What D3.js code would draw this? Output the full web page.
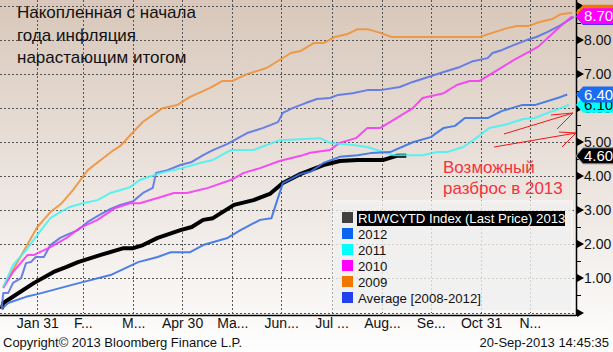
<!doctype html>
<html lang="ru">
<head>
<meta charset="utf-8">
<title>Накопленная инфляция</title>
<script src="https://cdn.jsdelivr.net/npm/d3@7"></script>
<style>
  body { margin: 0; background: #fff; }
  svg { display: block; font-family: "Liberation Sans", Arial, sans-serif; }
</style>
</head>
<body>
<svg></svg>
<script>
// series: [day of year, cumulative CPI %]
var s2013 = [[8,0.10],[9,0.28],[28,0.87],[40,1.19],[48,1.34],[55,1.48],[69,1.69],[83,1.89],[89,1.89],[95,1.98],[104,2.19],[118,2.42],[125,2.51],[132,2.72],[138,2.77],[151,3.16],[163,3.30],[173,3.48],[181,3.80],[192,4.07],[198,4.18],[206,4.33],[216,4.45],[227,4.48],[243,4.48],[247,4.54],[251,4.60],[257,4.60]];
var s2012 = [[8,0.10],[12,0.28],[23,0.46],[30,0.54],[56,0.87],[75,1.10],[92,1.48],[104,1.63],[112,1.77],[124,1.77],[132,1.98],[147,2.19],[155,2.42],[167,2.72],[174,2.77],[181,3.80],[192,4.07],[198,4.13],[206,4.39],[216,4.57],[227,4.62],[235,4.68],[247,4.71],[261,5.00],[272,5.15],[280,5.42],[287,5.48],[293,5.71],[307,5.71],[316,5.92],[328,6.09],[336,6.09],[352,6.33],[356,6.40]];
var s2011 = [[9,0.75],[15,1.39],[23,1.83],[30,2.28],[38,2.77],[44,2.95],[50,3.10],[58,3.21],[67,3.30],[75,3.51],[87,3.68],[93,3.89],[106,4.10],[119,4.24],[130,4.39],[138,4.48],[149,4.77],[163,4.77],[179,5.06],[204,5.12],[210,4.98],[224,4.92],[233,4.86],[243,4.71],[249,4.62],[267,4.62],[276,4.71],[282,4.71],[292,4.86],[300,5.12],[308,5.42],[319,5.53],[329,5.68],[336,5.71],[344,5.86],[352,6.00],[357,6.10]];
var s2010 = [[9,0.72],[15,1.19],[24,1.69],[28,1.69],[38,1.92],[48,2.19],[56,2.48],[67,2.72],[78,3.07],[87,3.21],[93,3.21],[104,3.36],[114,3.51],[122,3.51],[135,3.66],[149,3.89],[157,4.10],[167,4.24],[179,4.45],[192,4.60],[198,4.69],[210,4.77],[216,4.98],[226,5.12],[233,5.42],[241,5.42],[249,5.65],[261,6.00],[267,6.30],[280,6.44],[288,6.68],[296,6.80],[302,6.80],[313,7.12],[323,7.41],[338,7.80],[352,8.41],[359,8.70]];
var s2009 = [[9,0.75],[23,1.92],[30,2.51],[38,2.95],[45,3.21],[52,3.60],[61,4.18],[69,4.48],[77,4.77],[81,4.89],[89,5.30],[95,5.60],[107,6.00],[116,6.09],[124,6.33],[136,6.59],[144,6.80],[150,6.80],[159,7.00],[171,7.18],[186,7.62],[192,7.68],[200,7.91],[206,7.91],[213,8.09],[221,8.18],[227,8.32],[233,8.32],[241,8.21],[248,8.09],[302,8.09],[310,8.21],[319,8.35],[325,8.41],[332,8.41],[339,8.53],[347,8.62],[352,8.76],[359,8.80]];
var sAvg = [[8,0.10],[9,0.57],[12,0.57],[15,0.87],[20,1.01],[23,1.45],[26,1.48],[29,1.63],[34,1.63],[38,1.98],[44,2.19],[48,2.28],[55,2.42],[61,2.66],[68,2.86],[75,3.04],[81,3.16],[89,3.27],[95,3.51],[101,3.66],[103,4.10],[110,4.18],[118,4.33],[125,4.42],[132,4.62],[138,4.77],[147,4.95],[159,5.27],[169,5.42],[178,5.59],[181,5.86],[187,6.00],[195,6.15],[202,6.27],[210,6.30],[215,6.39],[224,6.44],[233,6.53],[241,6.53],[253,6.62],[261,6.77],[270,6.91],[280,7.06],[290,7.21],[298,7.38],[307,7.47],[310,7.62],[316,7.71],[323,7.85],[331,8.00],[337,8.09],[344,8.24],[352,8.44],[360,8.68]];

var legendNames = ["RUWCYTD Index (Last Price) 2013", "2012", "2011", "2010", "2009", "Average [2008-2012]"];
var tickDates = ["2013-01-31","2013-02-28","2013-03-31","2013-04-30","2013-05-31","2013-06-30","2013-07-31","2013-08-31","2013-09-30","2013-10-31","2013-11-30"];
var tickLabels = ["Jan 31","F...","M...","Apr 30","Ma...","Jun...","Jul ...","Aug...","Se...","Oct 31","N..."];
var yTicks = [1, 2, 3, 4, 5, 6, 7, 8];
var titleLines = ["Накопленная с начала", "года инфляция", "нарастающим итогом"];
var noteLines = ["Возможный", "разброс в 2013"];

var width = 613, height = 352;
var plotRight = 576, plotBottom = 313;

var parse = d3.timeParse("%Y-%m-%d");
var jan1 = new Date(2013, 0, 1);
function dayDate(d) { return d3.timeDay.offset(jan1, d); }

var x = d3.scaleTime()
    .domain([new Date(2013, 0, 8), new Date(2013, 11, 29)])
    .range([0, 577]);
var y = d3.scaleLinear().domain([0, 9]).range([312.5, 6]);

var svg = d3.select("svg").attr("width", width).attr("height", height);

// background gradient
var grad = svg.append("defs").append("linearGradient")
    .attr("id", "bg").attr("x1", 0).attr("y1", 0).attr("x2", 0).attr("y2", 1);
grad.append("stop").attr("offset", "0%").attr("stop-color", "#d8c7ba");
grad.append("stop").attr("offset", "55%").attr("stop-color", "#ede6e1");
grad.append("stop").attr("offset", "100%").attr("stop-color", "#fefefe");
svg.append("rect").attr("width", width).attr("height", height).attr("fill", "url(#bg)");

// grid
var grid = svg.append("g").attr("stroke", "#555").attr("stroke-dasharray", "2,2").attr("stroke-width", 1);
grid.selectAll(".hg").data(d3.range(0, 10)).enter().append("line")
    .attr("x1", 0).attr("x2", plotRight)
    .attr("y1", function (d) { return Math.round(y(d)) + 0.5; })
    .attr("y2", function (d) { return Math.round(y(d)) + 0.5; });
grid.selectAll(".vg").data(tickDates).enter().append("line")
    .attr("x1", function (d) { return Math.round(x(parse(d))) + 0.5; })
    .attr("x2", function (d) { return Math.round(x(parse(d))) + 0.5; })
    .attr("y1", 0).attr("y2", plotBottom);

// lines
var line = d3.line()
    .x(function (d) { return x(dayDate(d[0])); })
    .y(function (d) { return y(d[1]); });

var series = [
    { data: s2013, color: "#000000", w: 4, op: 1 },
    { data: sAvg, color: "#5a74e6", w: 2, op: 0.9 },
    { data: s2009, color: "#ef9238", w: 2, op: 0.9 },
    { data: s2010, color: "#f53cf5", w: 2, op: 0.9 },
    { data: s2011, color: "#3ff3f3", w: 2, op: 0.85 },
    { data: s2012, color: "#3872e6", w: 2, op: 0.9 }
];
svg.selectAll(".series").data(series).enter().append("path")
    .attr("d", function (d) { return line(d.data); })
    .attr("fill", "none")
    .attr("stroke", function (d) { return d.color; })
    .attr("stroke-width", function (d) { return d.w; })
    .attr("stroke-opacity", function (d) { return d.op; })
    .attr("stroke-linejoin", "round");

// axes lines
svg.append("line").attr("x1", plotRight + 0.5).attr("x2", plotRight + 0.5)
    .attr("y1", 0).attr("y2", 316).attr("stroke", "#000").attr("stroke-width", 1.5);
svg.append("line").attr("x1", 0).attr("x2", plotRight)
    .attr("y1", 315.5).attr("y2", 315.5).attr("stroke", "#000").attr("stroke-width", 1.5);

// y tick arrows and minor ticks
svg.selectAll(".tri").data(d3.range(0, 10)).enter().append("path")
    .attr("d", function (d) { var t = Math.round(y(d)); return "M577," + (t - 4) + "L584," + t + "L577," + (t + 4) + "Z"; })
    .attr("fill", "#000");
svg.selectAll(".minor").data(d3.range(0.5, 9, 1)).enter().append("line")
    .attr("x1", 577).attr("x2", 581)
    .attr("y1", function (d) { return Math.round(y(d)) + 0.5; })
    .attr("y2", function (d) { return Math.round(y(d)) + 0.5; })
    .attr("stroke", "#000");

var yAxis = d3.axisRight(y).tickValues(yTicks).tickFormat(d3.format(".2f")).tickSize(0).tickPadding(0);
var yg = svg.append("g").attr("transform", "translate(584,0)").call(yAxis);
yg.select(".domain").remove();
yg.selectAll("text").attr("font-size", 14).attr("fill", "#111").attr("font-family", "Liberation Sans, Arial, sans-serif");

var xAxis = d3.axisBottom(x).tickValues(tickDates.map(parse))
    .tickFormat(function (d, i) { return tickLabels[i]; }).tickSize(0).tickPadding(0);
var xg = svg.append("g").attr("transform", "translate(0,318)").call(xAxis);
xg.select(".domain").remove();
xg.selectAll("text").attr("font-size", 14).attr("fill", "#111").attr("font-family", "Liberation Sans, Arial, sans-serif");

// legend
var lg = svg.append("g").attr("transform", "translate(333,201)");
lg.append("rect").attr("width", 239).attr("height", 110)
    .attr("fill", "#f0f0f0").attr("fill-opacity", 0.8).attr("stroke", "#fafafa");
var swatch = ["#404040", "#0a64f0", "#00ffff", "#ff00ff", "#f07800", "#2240ee"];
lg.append("rect").attr("x", 24).attr("y", 10).attr("width", 208).attr("height", 15).attr("fill", "#000");
var items = lg.selectAll(".it").data(legendNames).enter().append("g")
    .attr("transform", function (d, i) { return "translate(0," + (17 + i * 16) + ")"; });
items.append("rect").attr("x", 9).attr("y", -6).attr("width", 11).attr("height", 11)
    .attr("fill", function (d, i) { return swatch[i]; });
items.append("text").attr("x", 25).attr("y", 5).attr("font-size", 13.2)
    .attr("fill", function (d, i) { return i === 0 ? "#fff" : "#111"; })
    .text(function (d) { return d; });

// last value labels (avg and 2009 sit fully behind the 2010 tag)
var lastLabels = [
    { v: sAvg[sAvg.length - 1][1], fill: "#2240ee", text: null },
    { v: s2009[s2009.length - 1][1], fill: "#f07800", text: null },
    { v: s2010[s2010.length - 1][1], fill: "#ff00ff", text: "#fff" },
    { v: s2011[s2011.length - 1][1], fill: "#00ffff", text: "#000" },
    { v: s2012[s2012.length - 1][1], fill: "#1a6cf0", text: "#fff" },
    { v: s2013[s2013.length - 1][1], fill: "#000000", text: "#fff" }
];
var lab = svg.selectAll(".lab").data(lastLabels).enter().append("g")
    .attr("transform", function (d) { return "translate(0," + y(d.v) + ")"; });
lab.append("path")
    .attr("d", "M576,0L583,-8L614,-8L614,8L583,8Z")
    .attr("fill", function (d) { return d.fill; })
    .attr("stroke", function (d, i) { return i === 5 ? "#999" : "none"; });
lab.filter(function (d) { return d.text; }).append("text")
    .attr("x", 584).attr("y", 5).attr("font-size", 15)
    .attr("fill", function (d) { return d.text; })
    .text(function (d) { return d.v.toFixed(2); });

// annotation
svg.append("g").selectAll("text").data(noteLines).enter().append("text")
    .attr("x", 443).attr("y", function (d, i) { return 173 + i * 21; })
    .attr("font-size", 17).attr("fill", "#f2343c").text(function (d) { return d; });
var arrows = [
    [[504, 134], [573, 113], [551, 115], [557, 129]],
    [[494, 147], [576, 133], [559, 132], [562, 147]]
];
var ag = svg.append("g").attr("stroke", "#f01818").attr("stroke-width", 1);
arrows.forEach(function (a) {
    ag.append("line").attr("x1", a[0][0]).attr("y1", a[0][1]).attr("x2", a[1][0]).attr("y2", a[1][1]);
    ag.append("line").attr("x1", a[2][0]).attr("y1", a[2][1]).attr("x2", a[1][0]).attr("y2", a[1][1]);
    ag.append("line").attr("x1", a[3][0]).attr("y1", a[3][1]).attr("x2", a[1][0]).attr("y2", a[1][1]);
});

// title
svg.append("g").selectAll("text").data(titleLines).enter().append("text")
    .attr("x", 17).attr("y", function (d, i) { return 18 + i * 22.5; })
    .attr("font-size", 17).attr("fill", "#111").text(function (d) { return d; });

// footer
svg.append("text").attr("x", 3).attr("y", 347).attr("font-size", 13).attr("fill", "#111")
    .text("Copyright\u00a9 2013 Bloomberg Finance L.P.");
svg.append("text").attr("x", 609).attr("y", 347).attr("font-size", 13).attr("fill", "#111")
    .attr("text-anchor", "end").text("20-Sep-2013 14:45:35");
</script>
</body>
</html>
